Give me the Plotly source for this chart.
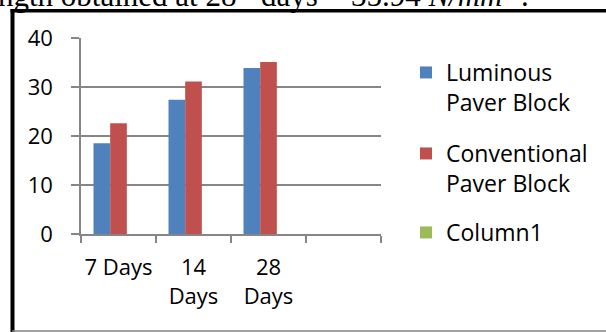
import plotly.graph_objects as go

categories = ["7 Days", "14<br>Days", "28<br>Days", " "]
luminous = [18.5, 27.4, 33.9, None]
conventional = [22.6, 31.1, 35.1, None]
column1 = [None, None, None, None]
series_names = ["Luminous<br>Paver Block", "Conventional<br>Paver Block", "Column1"]
colors = ["#4F81BD", "#C0504D", "#9BBB59"]

W, H = 606, 332
L, R, T, B = 81, 225, 38, 98
PW, PH = W - L - R, H - T - B


def px(x):
    return (x - L) / PW


def py(y):
    return (H - B - y) / PH


legend_ids = ["legend", "legend2", "legend3"]
legend_tops = [51, 132, 211]

fig = go.Figure()
for name, vals, col, lid in zip(series_names, [luminous, conventional, column1], colors, legend_ids):
    fig.add_trace(go.Bar(x=categories, y=vals, name=name, marker_color=col,
                         marker_line_width=0, legend=lid, showlegend=True))

font = "Open Sans"
legend_layout = {}
for lid, top in zip(legend_ids, legend_tops):
    legend_layout[lid] = dict(x=px(406), y=py(top), xanchor="left", yanchor="top",
                              valign="top", font=dict(size=23, family=font),
                              bgcolor="rgba(0,0,0,0)", visible=True)

fig.update_layout(
    width=W, height=H,
    showlegend=True,
    margin=dict(l=L, r=R, t=T, b=B, pad=0),
    paper_bgcolor="white", plot_bgcolor="white",
    barmode="group", bargap=1/3, bargroupgap=0,
    font=dict(family=font, size=22, color="black"),
    xaxis=dict(type="category", categoryorder="array", categoryarray=categories,
               range=[-0.5, 3.5], showline=True, linecolor="#868686", linewidth=1.5,
               ticks="outside", tickson="boundaries", ticklen=7, tickcolor="#868686",
               tickwidth=1.5, showgrid=False, tickfont=dict(size=22, family=font),
               tickangle=0, ticklabelstandoff=13, fixedrange=True),
    yaxis=dict(range=[0, 40], dtick=10, showline=True, linecolor="#868686",
               linewidth=1.5, ticks="outside", ticklen=8, tickcolor="#868686",
               tickwidth=1.5, showgrid=True, gridcolor="#868686", gridwidth=1.5,
               zeroline=False, tickfont=dict(size=22, family=font),
               ticklabelstandoff=14, fixedrange=True),
    shapes=[
        dict(type="line", xref="paper", yref="paper", x0=px(12.5), x1=px(12.5),
             y0=py(9), y1=py(333), line=dict(color="black", width=4)),
        dict(type="line", xref="paper", yref="paper", x0=px(10.5), x1=px(607),
             y0=py(10.8), y1=py(10.8), line=dict(color="black", width=3.5)),
        dict(type="line", xref="paper", yref="paper", x0=px(12), x1=px(607),
             y0=py(331), y1=py(331), line=dict(color="#808080", width=1.5)),
    ],
    annotations=[
        dict(xref="paper", yref="paper", x=px(-4), y=py(-7), xanchor="left",
             yanchor="middle", showarrow=False,
             text="ngth obtained at 28<sup>th</sup> days = 35.94 <i>N/mm</i><sup>2</sup> .",
             font=dict(family="Liberation Serif", size=31, color="black")),
    ],
    **legend_layout,
)

fig.write_html("out.html")
